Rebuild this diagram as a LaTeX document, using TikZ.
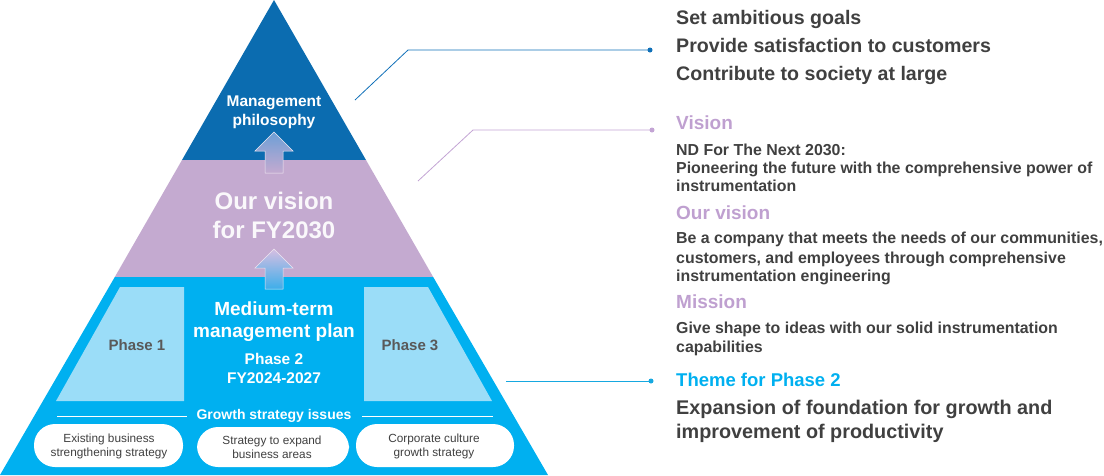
\documentclass[tikz,border=0pt]{standalone}
\usepackage{fontspec}
\setmainfont{Liberation Sans}
\newcommand\fsz[2]{\fontsize{#1}{#2}\selectfont}
\definecolor{dblue}{HTML}{0B6CB0}
\definecolor{lav}{HTML}{C4AAD0}
\definecolor{cyanb}{HTML}{00B0F0}
\definecolor{lblue}{HTML}{9BDDF8}
\definecolor{txt}{HTML}{404040}
\definecolor{ptxt}{HTML}{595959}
\definecolor{lavtxt}{HTML}{BFA0D0}
\definecolor{line1}{HTML}{1070B8}
\definecolor{line2}{HTML}{C3A4D4}
\definecolor{line3}{HTML}{16A8E0}
\definecolor{arAtop}{HTML}{6D9FD6}
\definecolor{arBtop}{HTML}{D6BEE2}
\definecolor{arBbot}{HTML}{3DAEEA}
\tikzset{
  pyr/.style={text=white,font=\bfseries,align=center,inner sep=0},
  pill/.style={fill=white,rounded corners=21pt,draw=none},
  pilltext/.style={text=txt,align=center,inner sep=0,font=\fsz{11.8}{14}},
  rt/.style={anchor=west,inner sep=0,text=txt,font=\bfseries\fsz{15.9}{18},text height=0.72em,text depth=0.2em},
  rtbig/.style={rt,font=\bfseries\fsz{19.6}{22}},
  head/.style={rt,text=lavtxt,font=\bfseries\fsz{19}{22}},
  dot/.style={circle,inner sep=0,minimum size=5pt},
  callout/.style={line width=0.8pt}
}
\begin{document}
\begin{tikzpicture}[x=1pt,y=-1pt]
\useasboundingbox (0,0) rectangle (1104,475);
% pyramid layers
\fill[dblue] (274,0) -- (366,160) -- (182,160) -- cycle;
\fill[lav] (182,160) -- (366,160) -- (433.2,277) -- (114.8,277) -- cycle;
\fill[cyanb] (114.8,277) -- (433.2,277) -- (548,475) -- (0,475) -- cycle;
% phase boxes
\fill[lblue] (120,287) -- (184,287) -- (184,401) -- (56,401) -- cycle;
\fill[lblue] (364,287) -- (428,287) -- (492,401) -- (364,401) -- cycle;
% arrows
\shade[top color=arAtop,bottom color=lav,draw=white!75!lav,line width=0.5pt]
  (274,132) -- (293,151) -- (283,151) -- (283,173) -- (265,173) -- (265,151) -- (255,151) -- cycle;
\shade[top color=arBtop,bottom color=arBbot,draw=white!70!lav,line width=0.5pt]
  (274,249) -- (293,268) -- (283,268) -- (283,289) -- (265,289) -- (265,268) -- (255,268) -- cycle;
% pyramid texts
\node[pyr,font=\bfseries\fsz{15.5}{19}] (mp) at (274,112) {Management\\philosophy};
\node[pyr,font=\bfseries\fsz{24}{29},text=white!92!lav] (ov) at (274,215) {Our vision\\for FY2030};
\node[pyr,font=\bfseries\fsz{19}{22}] (mt) at (274,322) {Medium-term\\management plan};
\node[pyr,font=\bfseries\fsz{15.5}{19}] (p2) at (274,368) {Phase 2\\FY2024-2027};
\node[pyr,text=ptxt,font=\bfseries\fsz{15}{18}] (p1) at (137,345) {Phase 1};
\node[pyr,text=ptxt,font=\bfseries\fsz{15}{18}] (p3) at (410,345) {Phase 3};
\node[pyr,font=\bfseries\fsz{14}{16}] (gs) at (274,416) {Growth strategy issues};
\coordinate (g1a) at (57,416); \coordinate (g1b) at (187,416);
\coordinate (g2a) at (362,416); \coordinate (g2b) at (493,416);
\draw[white,line width=0.9pt] (g1a) -- (g1b);
\draw[white,line width=0.9pt] (g2a) -- (g2b);
% pills
\fill[pill] (34,424) rectangle (183,467);
\fill[pill] (197,427) rectangle (349,467);
\fill[pill] (356,424) rectangle (514,467);
\node[pilltext] (s1) at (109,446) {Existing business\\strengthening strategy};
\node[pilltext] (s2) at (272,447) {Strategy to expand\\business areas};
\node[pilltext] (s3) at (434,446) {Corporate culture\\growth strategy};
% callouts
\coordinate (c1a) at (355,100); \coordinate (c1b) at (408,50);
\node[dot,fill=line1] (d1) at (650,50) {};
\draw[callout,line1] (c1a) -- (c1b) -- (d1.center);
\coordinate (c2a) at (418,181); \coordinate (c2b) at (473,130);
\node[dot,fill=line2] (d2) at (652,130) {};
\draw[callout,line2] (c2a) -- (c2b) -- (d2.center);
\coordinate (c3a) at (506,381);
\node[dot,fill=line3] (d3) at (651,381) {};
\draw[callout,line3] (c3a) -- (d3.center);
% right texts
\node[rtbig] (t1) at (676,22) {Set ambitious goals};
\node[rtbig] (t2) at (676,50) {Provide satisfaction to customers};
\node[rtbig] (t3) at (676,78) {Contribute to society at large};
\node[head] (h1) at (676,127) {Vision};
\node[rt] (v1) at (676,153) {ND For The Next 2030:};
\node[rt] (v2) at (676,171) {Pioneering the future with the comprehensive power of};
\node[rt] (v3) at (676,189) {instrumentation};
\node[head] (h2) at (676,217) {Our vision};
\node[rt] (o1) at (676,241) {Be a company that meets the needs of our communities,};
\node[rt] (o2) at (676,261) {customers, and employees through comprehensive};
\node[rt] (o3) at (676,279) {instrumentation engineering};
\node[head] (h3) at (676,306) {Mission};
\node[rt] (m1) at (676,331) {Give shape to ideas with our solid instrumentation};
\node[rt] (m2) at (676,350) {capabilities};
\node[head,text=cyanb,font=\bfseries\fsz{18.5}{21}] (h4) at (676,384) {Theme for Phase 2};
\node[rt,font=\bfseries\fsz{19.8}{24}] (e1) at (676,412) {Expansion of foundation for growth and};
\node[rt,font=\bfseries\fsz{19.8}{24}] (e2) at (676,436) {improvement of productivity};
\end{tikzpicture}
\end{document}
